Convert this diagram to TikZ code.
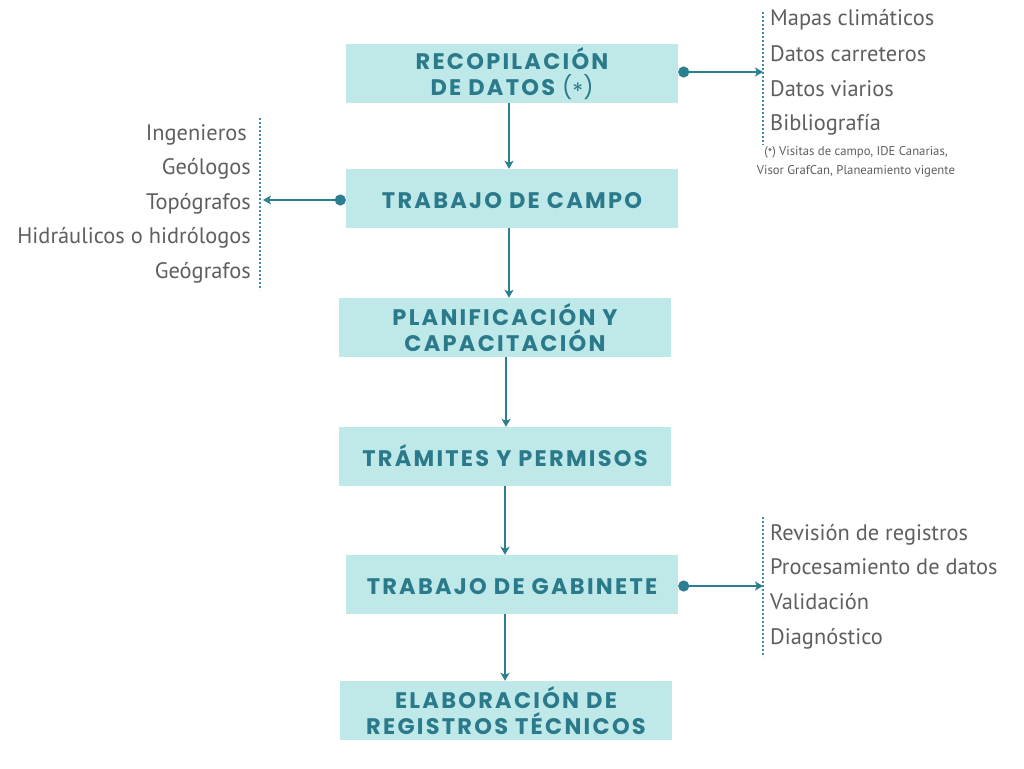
\documentclass[tikz,border=0pt]{standalone}
\usepackage{fontspec}
\usetikzlibrary{arrows.meta}
\newfontfamily\boxfont[LetterSpace=10]{Poppins}
\newfontfamily\listfont{PT Sans}
\definecolor{boxfill}{HTML}{BFE9E8}
\definecolor{tealtext}{HTML}{2A7A8B}
\definecolor{tealline}{HTML}{2B7F91}
\definecolor{graytext}{HTML}{5F5F5F}
\definecolor{dotcol}{HTML}{3A8FA0}
\tikzset{
  stepbox/.style={rectangle, fill=boxfill, minimum width=332pt, minimum height=59pt,
    inner sep=0pt, align=center, text=tealtext,
    font=\boxfont\bfseries\fontsize{22.5}{26}\selectfont},
  onebox/.style={stepbox, text height=20pt, text depth=0pt},
  item/.style={inner sep=0pt, text=graytext, font=\listfont\fontsize{22.4}{26}\selectfont},
  flow/.style={draw=tealline, line width=2pt, -{Stealth[length=8pt,width=9pt,inset=2pt]}},
  side/.style={draw=tealline, line width=2pt, {Circle[length=11pt]}-{Stealth[length=8pt,width=9pt,inset=2pt]}},
  dotline/.style={draw=dotcol, line width=1.8pt, dash pattern=on 1.6pt off 2.4pt},
  note/.style={inner sep=0pt, text=graytext, font=\listfont\fontsize{12.7}{19}\selectfont, align=center}
}
\begin{document}
\begin{tikzpicture}[x=1pt,y=-1pt]
\useasboundingbox[fill=white] (0,0) rectangle (1024,768);
% boxes
\node[stepbox] (b1) at (512,73.5) {RECOPILACIÓN\\DE DATOS {\mdseries(\raisebox{-0.3ex}{*})}};
\node[onebox] (b2) at (512,198.5) {TRABAJO DE CAMPO};
\node[stepbox] (b3) at (505,327.5) {PLANIFICACIÓN Y\\CAPACITACIÓN};
\node[onebox] (b4) at (505,456.5) {TRÁMITES Y PERMISOS};
\node[onebox] (b5) at (512,584.5) {TRABAJO DE GABINETE};
\node[stepbox] (b6) at (506,710.5) {ELABORACIÓN DE\\REGISTROS TÉCNICOS};
% flow arrows
\draw[flow] ([xshift=-3pt]b1.south) -- ([xshift=-3pt]b1.south |- b2.north);
\draw[flow] ([xshift=-3pt]b2.south) -- ([xshift=-3pt]b2.south |- b3.north);
\draw[flow] ([xshift=1pt]b3.south) -- ([xshift=1pt]b3.south |- b4.north);
\draw[flow] (b4.south) -- (b4.south |- b5.north);
\draw[flow] ([xshift=-1pt]b6.north |- b5.south) -- ([xshift=-1pt]b6.north);
% right list top
\coordinate (d1t) at (763,12);
\coordinate (d1b) at (763,145);
\draw[dotline] (d1t) -- (d1b);
\coordinate (a1) at (763,72);
\draw[side] (b1.east |- a1) -- (a1);
\node[item, anchor=base west] (r1) at (770,26) {Mapas climáticos};
\node[item, anchor=base west] (r2) at (770,61) {Datos carreteros};
\node[item, anchor=base west] (r3) at (770,96) {Datos viarios};
\node[item, anchor=base west] (r4) at (770,130) {Bibliografía};
\node[note, anchor=north] (n1) at (856,146) {(\raisebox{-0.3ex}{*}) Visitas de campo, IDE Canarias,\\Visor GrafCan, Planeamiento vigente};
% left list
\coordinate (d2t) at (260,118);
\coordinate (d2b) at (260,290);
\draw[dotline] (d2t) -- (d2b);
\coordinate (a2) at (263,200);
\draw[side] (b2.west |- a2) -- (a2);
\node[item, anchor=base east] (l1) at (247,140) {Ingenieros};
\node[item, anchor=base east] (l2) at (251,174) {Geólogos};
\node[item, anchor=base east] (l3) at (251,209) {Topógrafos};
\node[item, anchor=base east] (l4) at (251,243) {Hidráulicos o hidrólogos};
\node[item, anchor=base east] (l5) at (251,278) {Geógrafos};
% right list bottom
\coordinate (d3t) at (763,517);
\coordinate (d3b) at (763,657);
\draw[dotline] (d3t) -- (d3b);
\coordinate (a3) at (763,586);
\draw[side] (b5.east |- a3) -- (a3);
\node[item, anchor=base west] (g1) at (770,540) {Revisión de registros};
\node[item, anchor=base west] (g2) at (770,574) {Procesamiento de datos};
\node[item, anchor=base west] (g3) at (770,609) {Validación};
\node[item, anchor=base west] (g4) at (770,644) {Diagnóstico};
\end{tikzpicture}
\end{document}
